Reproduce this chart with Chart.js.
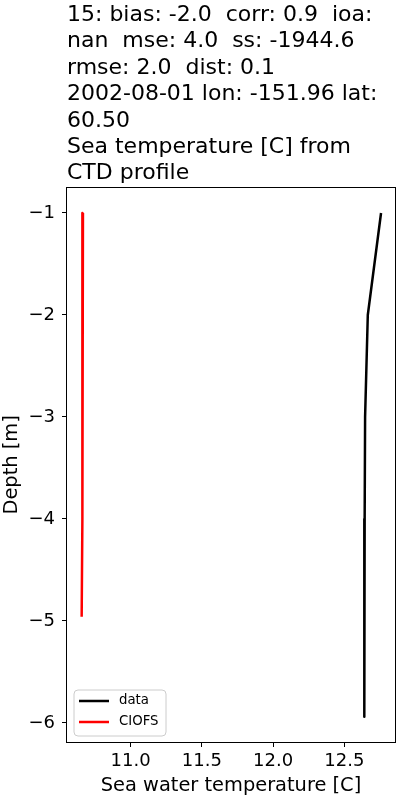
<!DOCTYPE html>
<html>
<head>
<meta charset="utf-8">
<script src="https://cdn.jsdelivr.net/npm/chart.js@4/dist/chart.umd.min.js"></script>
<style>
  body { margin: 0; background: #fff; }
  #wrap { width: 400px; height: 800px; }
</style>
</head>
<body>
<div id="wrap"><canvas id="profile" width="400" height="800"></canvas></div>
<script>
// profile values
var dataDepth = [-1, -2, -3, -4, -5, -5.94];
var dataTemp = [12.758, 12.665, 12.646, 12.643, 12.641, 12.64];
var modelDepth = [-1, -2, -3, -4, -4.96];
var modelTemp = [10.665, 10.663, 10.661, 10.659, 10.656];
var xTicks = [11.0, 11.5, 12.0, 12.5];
var yTicks = [-1, -2, -3, -4, -5, -6];
var titleLines = [
    "15: bias: -2.0  corr: 0.9  ioa:",
    "nan  mse: 4.0  ss: -1944.6",
    "rmse: 2.0  dist: 0.1",
    "2002-08-01 lon: -151.96 lat:",
    "60.50",
    "Sea temperature [C] from",
    "CTD profile"
];

var FONT = "'DejaVu Sans', sans-serif";

function toPoints(xs, ys) {
    var pts = [];
    for (var i = 0; i < xs.length; ++i) {
        pts.push({ x: xs[i], y: ys[i] });
    }
    return pts;
}

// frame round the axes and the legend box, drawn last like matplotlib
var framePlugin = {
    id: "frame",
    afterDraw: function(chart) {
        var ctx = chart.ctx;
        var a = chart.chartArea;
        ctx.save();
        ctx.strokeStyle = "#000";
        ctx.lineWidth = 1;
        ctx.strokeRect(Math.round(a.left) - 0.5, Math.round(a.top) - 0.5,
            Math.round(a.right - a.left) + 1, Math.round(a.bottom - a.top) + 1);

        // legend, lower left
        var bx = a.left + 7, by = a.bottom - 52, bw = 92, bh = 46, r = 4;
        ctx.beginPath();
        ctx.moveTo(bx + r, by);
        ctx.arcTo(bx + bw, by, bx + bw, by + bh, r);
        ctx.arcTo(bx + bw, by + bh, bx, by + bh, r);
        ctx.arcTo(bx, by + bh, bx, by, r);
        ctx.arcTo(bx, by, bx + bw, by, r);
        ctx.closePath();
        ctx.fillStyle = "rgba(255,255,255,0.8)";
        ctx.fill();
        ctx.strokeStyle = "#cccccc";
        ctx.stroke();

        var items = chart.data.datasets;
        ctx.font = "13.3px " + FONT;
        ctx.textBaseline = "middle";
        for (var i = 0; i < items.length; ++i) {
            var ly = by + 11 + i * 21;
            ctx.beginPath();
            ctx.moveTo(bx + 5, ly);
            ctx.lineTo(bx + 35, ly);
            ctx.strokeStyle = items[i].borderColor;
            ctx.lineWidth = 2.5;
            ctx.stroke();
            ctx.fillStyle = "#000";
            ctx.fillText(items[i].label, bx + 45, ly);
        }
        ctx.restore();
    }
};

var ctx = document.getElementById("profile").getContext("2d");
var chart = new Chart(ctx, {
    type: "scatter",
    data: {
        datasets: [{
            label: "data",
            data: toPoints(dataTemp, dataDepth),
            showLine: true,
            borderColor: "#000000",
            borderWidth: 2.5,
            borderJoinStyle: "round",
            pointRadius: 0,
            tension: 0
        }, {
            label: "CIOFS",
            data: toPoints(modelTemp, modelDepth),
            showLine: true,
            borderColor: "#ff0000",
            borderWidth: 2.5,
            borderJoinStyle: "round",
            pointRadius: 0,
            tension: 0
        }]
    },
    options: {
        responsive: false,
        animation: false,
        layout: { padding: { top: 0, right: 5, bottom: 0, left: 0 } },
        plugins: {
            legend: { display: false },
            tooltip: { enabled: false },
            title: {
                display: true,
                text: titleLines,
                align: "start",
                fullSize: false,
                color: "#000",
                font: { family: FONT, size: 22, weight: "normal", lineHeight: 1.2 },
                padding: { top: 2, bottom: 1 }
            }
        },
        scales: {
            x: {
                type: "linear",
                min: 10.553,
                max: 12.856,
                afterBuildTicks: function(axis) {
                    axis.ticks = xTicks.map(function(v) { return { value: v }; });
                },
                afterFit: function(axis) { axis.height = 58; },
                border: { display: false },
                grid: { drawOnChartArea: false, drawTicks: true, tickLength: 5, color: "#000" },
                ticks: {
                    color: "#000",
                    padding: 4,
                    maxRotation: 0,
                    font: { family: FONT, size: 18 },
                    callback: function(v) { return Number(v).toFixed(1); }
                },
                title: {
                    display: true,
                    text: "Sea water temperature [C]",
                    color: "#000",
                    font: { family: FONT, size: 19.4 },
                    padding: { top: 0, bottom: 2 }
                }
            },
            y: {
                type: "linear",
                min: -6.187,
                max: -0.753,
                afterBuildTicks: function(axis) {
                    axis.ticks = yTicks.map(function(v) { return { value: v }; });
                },
                afterFit: function(axis) { axis.width = 67; },
                border: { display: false },
                grid: { drawOnChartArea: false, drawTicks: true, tickLength: 5, color: "#000" },
                ticks: {
                    color: "#000",
                    padding: 7,
                    font: { family: FONT, size: 18 },
                    callback: function(v) { return (v < 0 ? "\u2212" : "") + Math.abs(v); }
                },
                title: {
                    display: true,
                    text: "Depth [m]",
                    color: "#000",
                    font: { family: FONT, size: 19.4 },
                    padding: { top: 0, bottom: 0 }
                }
            }
        }
    },
    plugins: [framePlugin]
});
</script>
</body>
</html>
